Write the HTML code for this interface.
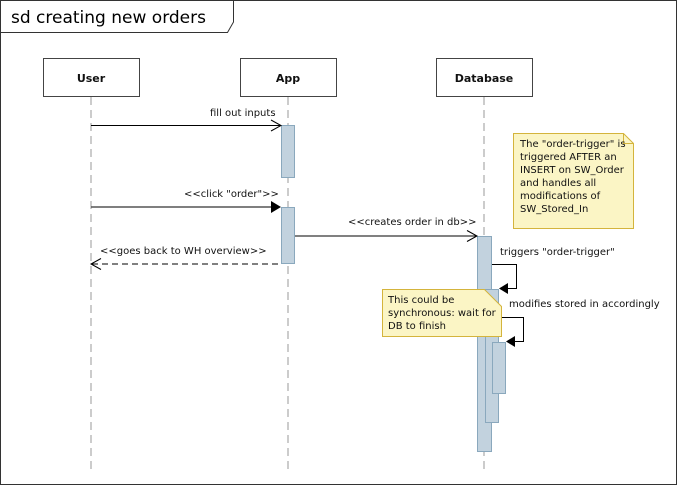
<!DOCTYPE html>
<html><head><meta charset="utf-8"><style>
html,body{margin:0;padding:0;background:#fff;}
svg{display:block;font-family:"DejaVu Sans","Liberation Sans",sans-serif;}
</style></head><body>
<svg width="678" height="486" viewBox="0 0 678 486" xmlns="http://www.w3.org/2000/svg">
<rect x="0.5" y="0.5" width="676" height="484" fill="#fff" stroke="#333"/>
<path d="M0.5 32.5 H227.5 L233.5 22 V0.5" fill="none" stroke="#333"/>
<text x="11" y="23" font-size="17" fill="#000">sd creating new orders</text>
<g stroke="#bbb" stroke-dasharray="8,5" stroke-width="1.5">
<line x1="91" y1="97" x2="91" y2="470"/>
<line x1="288" y1="97" x2="288" y2="470"/>
<line x1="484" y1="97" x2="484" y2="470"/>
</g>
<g fill="#fff" stroke="#444">
<rect x="43.5" y="58.5" width="96" height="38"/>
<rect x="240.5" y="58.5" width="96" height="38"/>
<rect x="436.5" y="58.5" width="96" height="38"/>
</g>
<g font-size="11" font-weight="bold" text-anchor="middle" fill="#111">
<text x="91" y="82">User</text><text x="288" y="82">App</text><text x="484" y="82">Database</text>
</g>
<g fill="#c2d2de" stroke="#8aa8bd">
<rect x="281.5" y="125.5" width="13" height="52"/>
<rect x="281.5" y="207.5" width="13" height="56"/>
<rect x="477.5" y="236.5" width="14" height="215"/>
<rect x="485.5" y="289.5" width="13" height="133"/>
<rect x="492.5" y="342.5" width="13" height="51"/>
</g>
<g font-size="10" fill="#111">
<line x1="91" y1="125.5" x2="281" y2="125.5" stroke="#000"/>
<path d="M271 120 L281 125.5 L271 131" fill="none" stroke="#000"/>
<text x="210" y="116">fill out inputs</text>
<line x1="91" y1="207" x2="272" y2="207" stroke="#555" stroke-width="1.5"/>
<path d="M271 201 L281 207 L271 213 Z" fill="#000"/>
<text x="184" y="197">&lt;&lt;click "order"&gt;&gt;</text>
<line x1="295" y1="236" x2="477" y2="236" stroke="#000"/>
<path d="M467 230.5 L477 236 L467 241.5" fill="none" stroke="#000"/>
<text x="348" y="225">&lt;&lt;creates order in db&gt;&gt;</text>
<line x1="92" y1="264" x2="281" y2="264" stroke="#000" stroke-dasharray="6,4"/>
<path d="M101 258.5 L91 264 L101 269.5" fill="none" stroke="#000"/>
<text x="100" y="254">&lt;&lt;goes back to WH overview&gt;&gt;</text>
<path d="M492 264.5 H516.5 V288.5 H508" fill="none" stroke="#000"/>
<path d="M508 283 L499 288.5 L508 294 Z" fill="#000"/>
<text x="500" y="255">triggers "order-trigger"</text>
<path d="M499 317.5 H523.5 V341.5 H515" fill="none" stroke="#000"/>
<path d="M515 336 L506 341.5 L515 347 Z" fill="#000"/>
<text x="509" y="307">modifies stored in accordingly</text>
</g>
<path d="M513.5 133.5 H623.5 L633.5 143.5 V228.5 H513.5 Z" fill="#fbf5c5" stroke="#d4b43c"/>
<path d="M623.5 133.5 V143.5 H633.5" fill="none" stroke="#d4b43c"/>
<g font-size="10" fill="#111">
<text x="520" y="147">The "order-trigger" is</text>
<text x="520" y="160">triggered AFTER an</text>
<text x="520" y="173">INSERT on SW_Order</text>
<text x="520" y="186">and handles all</text>
<text x="520" y="199">modifications of</text>
<text x="520" y="212">SW_Stored_In</text>
</g>
<path d="M382.5 289.5 H484.5 L501.5 306.5 V336.5 H382.5 Z" fill="#fbf5c5" stroke="#d4b43c"/>
<g font-size="10" fill="#111">
<text x="388" y="303">This could be</text>
<text x="388" y="316">synchronous: wait for</text>
<text x="388" y="329">DB to finish</text>
</g>
</svg>
</body></html>
